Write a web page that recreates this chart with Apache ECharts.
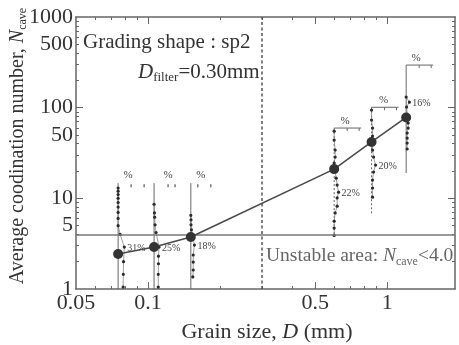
<!DOCTYPE html>
<html>
<head>
<meta charset="utf-8">
<script src="https://cdn.jsdelivr.net/npm/echarts@6/dist/echarts.min.js"></script>
<style>html,body{margin:0;padding:0;background:#fff;}#c{width:459px;height:345px;}</style>
</head>
<body>
<div id="c"></div>
<script>
// ---------- data ----------
const xMin = 0.05, xMax = 1.92;
const yMin = 1, yMax = 1000;
const xTickLabels = [0.05, 0.1, 0.5, 1];
const xMajorTicks = [0.1, 0.5, 1];
const xMinorTicks = [0.06, 0.07, 0.08, 0.09, 0.2, 0.3, 0.4, 0.6, 0.7, 0.8, 0.9];
const yTickLabels = [1, 5, 10, 50, 100, 500, 1000];
const yMajorTicks = [10, 100];
const yMinorTicks = [2, 3, 4, 5, 6, 7, 8, 9, 20, 30, 40, 50, 60, 70, 80, 90, 200, 300, 400, 500, 600, 700, 800, 900];

const filterD = 0.30;
const unstableN = 4.0;

const mainD = [0.075, 0.106, 0.151, 0.60, 0.86, 1.2];
const mainN = [2.43, 2.9, 3.74, 21, 41.9, 78];

// coordination-number distributions (N bins, frequency %)
const dist1N = [13, 12, 11, 10, 9, 8, 7, 6, 5, 4, 2.9, 2.0, 1.45, 1.05];
const dist1P = [0, 0, 0, 0, 0, 0, 0, 0, 0, 10, 31, 27, 26, 25];
const dist2N = [8.6, 6.9, 6.2, 5.1, 4.2, 2.9, 2.3, 1.9, 1.45, 1.05];
const dist2P = [0, 2, 3, 5, 10, 25, 22, 22, 21, 21];
const dist3N = [6.5, 5.8, 5.1, 4.5, 3.05, 2.37, 1.98, 1.62, 1.36];
const dist3P = [0, 1, 1, 3, 18, 12, 12, 12, 10];
const dist4N = [55, 43.9, 34.1, 28.5, 24.5, 16.7, 14.0, 11.7, 10.1, 8.2, 6.9, 5.6, 4.7, 3.9];
const dist4P = [0, 0, 5, 5, 0, 10, 15, 22, 15, 15, 5, 0, 0, 0];
const dist5N = [94, 73, 59.6, 48.6, 34.1, 28.5, 23.3, 19.5, 15.9, 13.0, 10.3];
const dist5P = [0, 0, 5, 5, 5, 10, 20, 10, 5, 5, 5];
const dist6N = [131, 115, 101.6, 67.6, 59.6, 52.5, 46.2, 40.7, 35.0];
const dist6P = [0, 16, 2, 10, 10, 5, 5, 5, 5];
const distLabels = ['31%', '25%', '18%', '22%', '20%', '16%'];
const distTopN = [14.7, 14.7, 14.7, 59.6, 101, 295];
const distBottomN = [1, 1, 1, 3.9, 6.5, 19];

// ---------- style ----------
const F = 'Liberation Serif';
const PX_PER_PCT = 0.2;
const frameLine = { color: '#666', width: 1.5 };
const tickLine = { color: '#666', width: 1 };
const fmt = v => String(v);

function xAx(position, ticks, len, showLine, labels) {
  return {
    type: 'log', logBase: 10, min: xMin, max: xMax, position: position,
    axisLine: { show: showLine, onZero: false, lineStyle: frameLine },
    axisTick: { show: true, inside: true, length: len, customValues: ticks, lineStyle: tickLine },
    axisLabel: labels ? { show: true, customValues: labels, formatter: fmt, fontFamily: F, fontSize: 22, color: '#333', margin: 3 } : { show: false },
    splitLine: { show: false }, minorTick: { show: false }
  };
}
function yAx(position, ticks, len, showLine, labels) {
  return {
    type: 'log', logBase: 10, min: yMin, max: yMax, position: position,
    axisLine: { show: showLine, onZero: false, lineStyle: frameLine },
    axisTick: { show: true, inside: true, length: len, customValues: ticks, lineStyle: tickLine },
    axisLabel: labels ? { show: true, customValues: labels, formatter: fmt, fontFamily: F, fontSize: 22, color: '#333', margin: 3 } : { show: false },
    splitLine: { show: false }, minorTick: { show: false }
  };
}

const dists = [
  [dist1N, dist1P], [dist2N, dist2P], [dist3N, dist3P],
  [dist4N, dist4P], [dist5N, dist5P], [dist6N, dist6P]
];

function distSeries(k) {
  const Ns = dists[k][0], Ps = dists[k][1];
  let peak = 0;
  Ps.forEach((p, i) => { if (p > Ps[peak]) peak = i; });
  return {
    type: 'custom', silent: true, z: 3,
    data: Ns.map((n, i) => [mainD[k], n, Ps[i]]),
    encode: { x: 0, y: 1 },
    renderItem: function (params, api) {
      const i = params.dataIndex;
      const p = api.coord([api.value(0), api.value(1)]);
      p[0] += api.value(2) * PX_PER_PCT;
      const ch = [];
      if (i < Ns.length - 1) {
        const q = api.coord([mainD[k], Ns[i + 1]]);
        q[0] += Ps[i + 1] * PX_PER_PCT;
        ch.push({ type: 'line', shape: { x1: p[0], y1: p[1], x2: q[0], y2: q[1] }, style: { stroke: '#888', lineWidth: 0.8 } });
      }
      ch.push({ type: 'circle', shape: { cx: p[0], cy: p[1], r: 1.6 }, style: { fill: '#2a2a2a' } });
      if (i === peak) {
        ch.push({ type: 'text', x: p[0] + 3, y: p[1] + 1, style: { text: distLabels[k], fontFamily: F, fontSize: 10, fill: '#444', align: 'left', verticalAlign: 'middle' } });
      }
      return { type: 'group', children: ch };
    }
  };
}

const frameStyle = [
  { dash: null, line: false, pctDx: 10, ticks: [13, 26] },
  { dash: null, line: false, pctDx: 14, ticks: [14, 21] },
  { dash: null, line: false, pctDx: 10, ticks: [7, 20] },
  { dash: [2, 2], line: true, pctDx: 11, ticks: [13, 25] },
  { dash: [2, 2], line: true, pctDx: 12, ticks: [13, 25] },
  { dash: null, line: true, pctDx: 10, ticks: [13, 25] }
];

const frameSeries = {
  type: 'custom', silent: true, z: 2,
  data: mainD.map((d, k) => [d, distBottomN[k], distTopN[k]]),
  encode: { x: 0, y: [1, 2] },
  renderItem: function (params, api) {
    const k = params.dataIndex;
    const st = frameStyle[k];
    const b = api.coord([api.value(0), api.value(1)]);
    const t = api.coord([api.value(0), api.value(2)]);
    const ch = [];
    ch.push({ type: 'line', shape: { x1: t[0], y1: t[1], x2: b[0], y2: b[1] }, style: { stroke: '#666', lineWidth: 1, lineDash: st.dash } });
    if (st.line) {
      ch.push({ type: 'line', shape: { x1: t[0], y1: t[1], x2: t[0] + 27, y2: t[1] }, style: { stroke: '#666', lineWidth: 1 } });
      st.ticks.forEach(dx => ch.push({ type: 'line', shape: { x1: t[0] + dx, y1: t[1], x2: t[0] + dx, y2: t[1] + 3 }, style: { stroke: '#666', lineWidth: 1 } }));
      ch.push({ type: 'text', x: t[0] + st.pctDx, y: t[1] - 7, style: { text: '%', fontFamily: F, fontSize: 11, fill: '#444', align: 'center', verticalAlign: 'middle' } });
    } else {
      st.ticks.forEach(dx => ch.push({ type: 'line', shape: { x1: t[0] + dx, y1: t[1] + 1, x2: t[0] + dx, y2: t[1] + 4 }, style: { stroke: '#555', lineWidth: 1.2 } }));
      ch.push({ type: 'text', x: t[0] + st.pctDx, y: t[1] - 8, style: { text: '%', fontFamily: F, fontSize: 11, fill: '#444', align: 'center', verticalAlign: 'middle' } });
    }
    return { type: 'group', children: ch };
  }
};

const chart = echarts.init(document.getElementById('c'), null, { renderer: 'canvas' });
chart.setOption({
  animation: false,
  backgroundColor: '#fff',
  grid: { left: 76, top: 17, right: 4, bottom: 56, containLabel: false },
  xAxis: [
    xAx('bottom', xMajorTicks, 7, true, xTickLabels),
    xAx('bottom', xMinorTicks, 3, false, null),
    xAx('top', xMajorTicks, 7, true, null),
    xAx('top', xMinorTicks, 3, false, null)
  ],
  yAxis: [
    yAx('left', yMajorTicks, 7, true, yTickLabels),
    yAx('left', yMinorTicks, 3, false, null),
    yAx('right', yMajorTicks, 7, true, null),
    yAx('right', yMinorTicks, 3, false, null)
  ],
  series: [
    frameSeries,
    distSeries(0), distSeries(1), distSeries(2), distSeries(3), distSeries(4), distSeries(5),
    {
      type: 'line', z: 5,
      data: mainD.map((d, i) => [d, mainN[i]]),
      symbol: 'circle', symbolSize: 10,
      itemStyle: { color: '#333' },
      lineStyle: { color: '#4a4a4a', width: 1.6 },
      markLine: {
        silent: true, symbol: 'none', label: { show: false },
        data: [
          { xAxis: filterD, lineStyle: { color: '#555', width: 1.5, type: [3, 2.5] } },
          { yAxis: unstableN, lineStyle: { color: '#777', width: 1.5, type: 'solid' } }
        ]
      }
    }
  ],
  graphic: [
    { type: 'text', x: 83, y: 42, style: { text: 'Grading shape : sp2', fontFamily: F, fontSize: 21, fill: '#333', align: 'left', verticalAlign: 'middle' } },
    { type: 'text', x: 138, y: 72, style: {
        text: '{i|D}{s|filter}{n|=0.30mm}', align: 'left', verticalAlign: 'middle',
        rich: {
          i: { fontFamily: F, fontSize: 21, fontStyle: 'italic', lineHeight: 24, fill: '#333' },
          s: { fontFamily: F, fontSize: 13, lineHeight: 13, verticalAlign: 'bottom', fill: '#333' },
          n: { fontFamily: F, fontSize: 21, lineHeight: 24, fill: '#333' }
        } } },
    { type: 'text', x: 266, y: 256, style: {
        text: '{n|Unstable area: }{i|N}{s|cave}{n|<4.0}', align: 'left', verticalAlign: 'middle',
        rich: {
          n: { fontFamily: F, fontSize: 19.5, lineHeight: 23, fill: '#666' },
          i: { fontFamily: F, fontSize: 19.5, fontStyle: 'italic', lineHeight: 23, fill: '#666' },
          s: { fontFamily: F, fontSize: 12, lineHeight: 12, verticalAlign: 'bottom', fill: '#666' }
        } } },
    { type: 'text', x: 18, y: 146, rotation: Math.PI / 2, style: {
        text: '{n|Average coodination number, }{i|N}{s|cave}', align: 'center', verticalAlign: 'middle',
        rich: {
          n: { fontFamily: F, fontSize: 20, lineHeight: 22, fill: '#333' },
          i: { fontFamily: F, fontSize: 20, fontStyle: 'italic', lineHeight: 22, fill: '#333' },
          s: { fontFamily: F, fontSize: 12, lineHeight: 12, verticalAlign: 'bottom', fill: '#333' }
        } } },
    { type: 'text', x: 267, y: 332, style: {
        text: '{n|Grain size, }{i|D}{n| (mm)}', align: 'center', verticalAlign: 'middle',
        rich: {
          n: { fontFamily: F, fontSize: 22, lineHeight: 24, fill: '#333' },
          i: { fontFamily: F, fontSize: 22, fontStyle: 'italic', lineHeight: 24, fill: '#333' }
        } } }
  ]
});
</script>
</body>
</html>
